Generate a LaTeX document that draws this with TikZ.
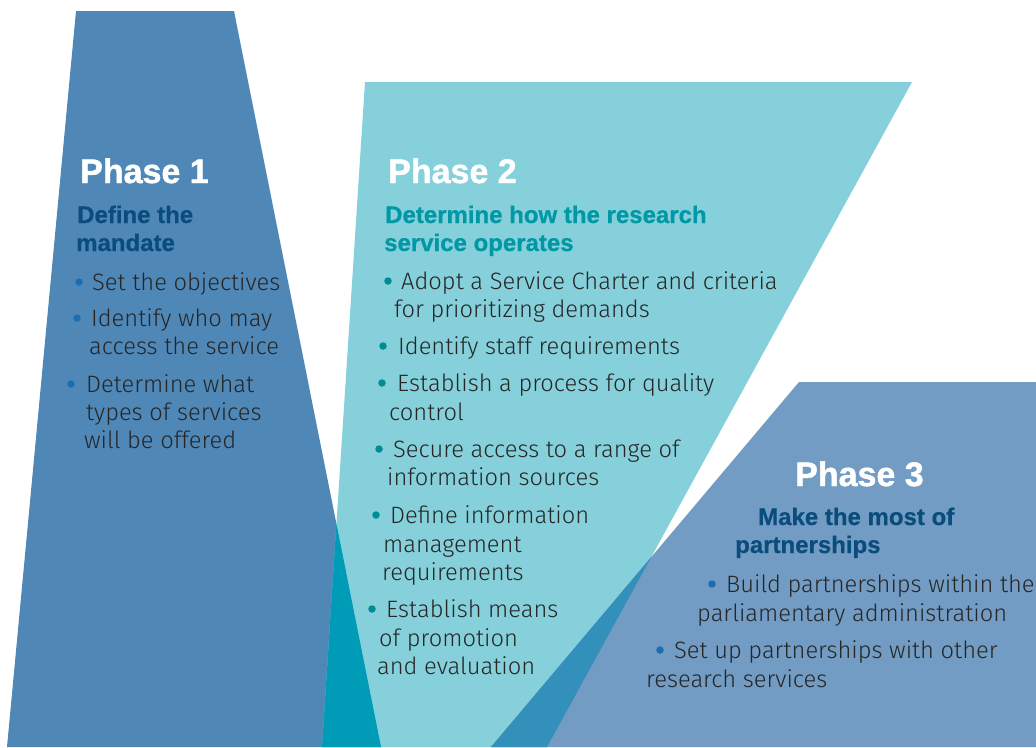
\documentclass[tikz,border=0pt]{standalone}
\usepackage{fontspec}
\setmainfont{Liberation Sans}
\newfontfamily\lightsans{Fira Sans Light}
\newfontfamily\heavysans[FakeBold=1.4]{Liberation Sans Bold}
\newfontfamily\boldsans[FakeBold=0.6]{Liberation Sans Bold}
\definecolor{phaseone}{HTML}{4F87B7}
\definecolor{phasetwo}{HTML}{85D0DA}
\definecolor{phasethree}{HTML}{729CC3}
\definecolor{overlapot}{HTML}{009BB6}
\definecolor{overlaptt}{HTML}{3390BB}
\definecolor{subblue}{HTML}{0A4D7D}
\definecolor{subteal}{HTML}{0098A5}
\definecolor{dotblue}{HTML}{1B6FAE}
\definecolor{dotteal}{HTML}{008C94}
\definecolor{bodytext}{HTML}{262626}
\tikzset{
  phasehead/.style={anchor=base west, inner sep=0pt, text=white,
    font=\heavysans\fontsize{34}{34}\selectfont},
  subhead/.style={anchor=base west, inner sep=0pt,
    font=\boldsans\fontsize{24}{24}\selectfont},
  bodyline/.style={anchor=base west, inner sep=0pt, text=bodytext,
    font=\lightsans\fontsize{23.7}{23.7}\selectfont},
  bulletdot/.style={circle, inner sep=0pt, minimum size=7.5pt},
}
\begin{document}
\begin{tikzpicture}[x=1pt,y=-1pt]
\useasboundingbox (0,0) rectangle (1036,747);
% the three phase shapes
\fill[phaseone] (76,11) -- (234,11) -- (381,747) -- (7,747) -- cycle;
\fill[phasetwo] (365,82) -- (912,82) -- (547,747) -- (322,747) -- cycle;
\fill[phasethree] (799,382) -- (1036,382) -- (1036,747) -- (491,747) -- cycle;
% overlaps
\begin{scope}
\clip (365,82) -- (912,82) -- (547,747) -- (322,747) -- cycle;
\fill[overlapot] (76,11) -- (234,11) -- (381,747) -- (7,747) -- cycle;
\fill[overlaptt] (799,382) -- (1036,382) -- (1036,747) -- (491,747) -- cycle;
\end{scope}
% phase 1
\node[phasehead] (ponehead) at (80,183) {Phase 1};
\node[subhead, text=subblue] (ponesuba) at (77,223) {Define the};
\node[subhead, text=subblue] (ponesubb) at (76,251) {mandate};
\foreach \n/\bx/\tx/\by/\txt in {a/79/92/290/Set the objectives,
  b/77/91/326/Identify who may, c/71/86/392/Determine what}
{
\node[bulletdot, fill=dotblue] (ponedot\n) at (\bx,\by-8) {};
\node[bodyline] (ponetxt\n) at (\tx,\by) {\txt};
}
\foreach \n/\tx/\by/\txt in {a/89/354/access the service,
  b/86/420/types of services, c/84/448/will be offered}
\node[bodyline] (ponemore\n) at (\tx,\by) {\txt};
% phase 2
\node[phasehead] (ptwohead) at (388,183) {Phase 2};
\node[subhead, text=subteal] (ptwosuba) at (385,223) {Determine how the research};
\node[subhead, text=subteal] (ptwosubb) at (384,251) {service operates};
\foreach \n/\bx/\tx/\by/\txt in {a/388/401/289/Adopt a Service Charter and criteria,
  b/383/398/354/Identify staff requirements,
  c/382/397/391/Establish a process for quality,
  d/379/393/457/Secure access to a range of,
  e/376/390/523/Define information,
  f/372/386/617/Establish means}
{
\node[bulletdot, fill=dotteal] (ptwodot\n) at (\bx,\by-8) {};
\node[bodyline] (ptwotxt\n) at (\tx,\by) {\txt};
}
\foreach \n/\tx/\by/\txt in {a/394/317/for prioritizing demands,
  b/389/420/control, c/387/485/information sources,
  d/383/552/management, e/382/580/requirements,
  f/379/646/of promotion, g/377/674/and evaluation}
\node[bodyline] (ptwomore\n) at (\tx,\by) {\txt};
% phase 3
\node[phasehead] (pthreehead) at (795,486) {Phase 3};
\node[subhead, text=subblue] (pthreesuba) at (758,525) {Make the most of};
\node[subhead, text=subblue] (pthreesubb) at (735,553) {partnerships};
\foreach \n/\bx/\tx/\by/\txt in {a/712/726/592/Build partnerships within the,
  b/660/674/658/Set up partnerships with other}
{
\node[bulletdot, fill=dotblue] (pthreedot\n) at (\bx,\by-8) {};
\node[bodyline] (pthreetxt\n) at (\tx,\by) {\txt};
}
\foreach \n/\tx/\by/\txt in {a/697/621/parliamentary administration,
  b/646/687/research services}
\node[bodyline] (pthreemore\n) at (\tx,\by) {\txt};
\end{tikzpicture}
\end{document}
